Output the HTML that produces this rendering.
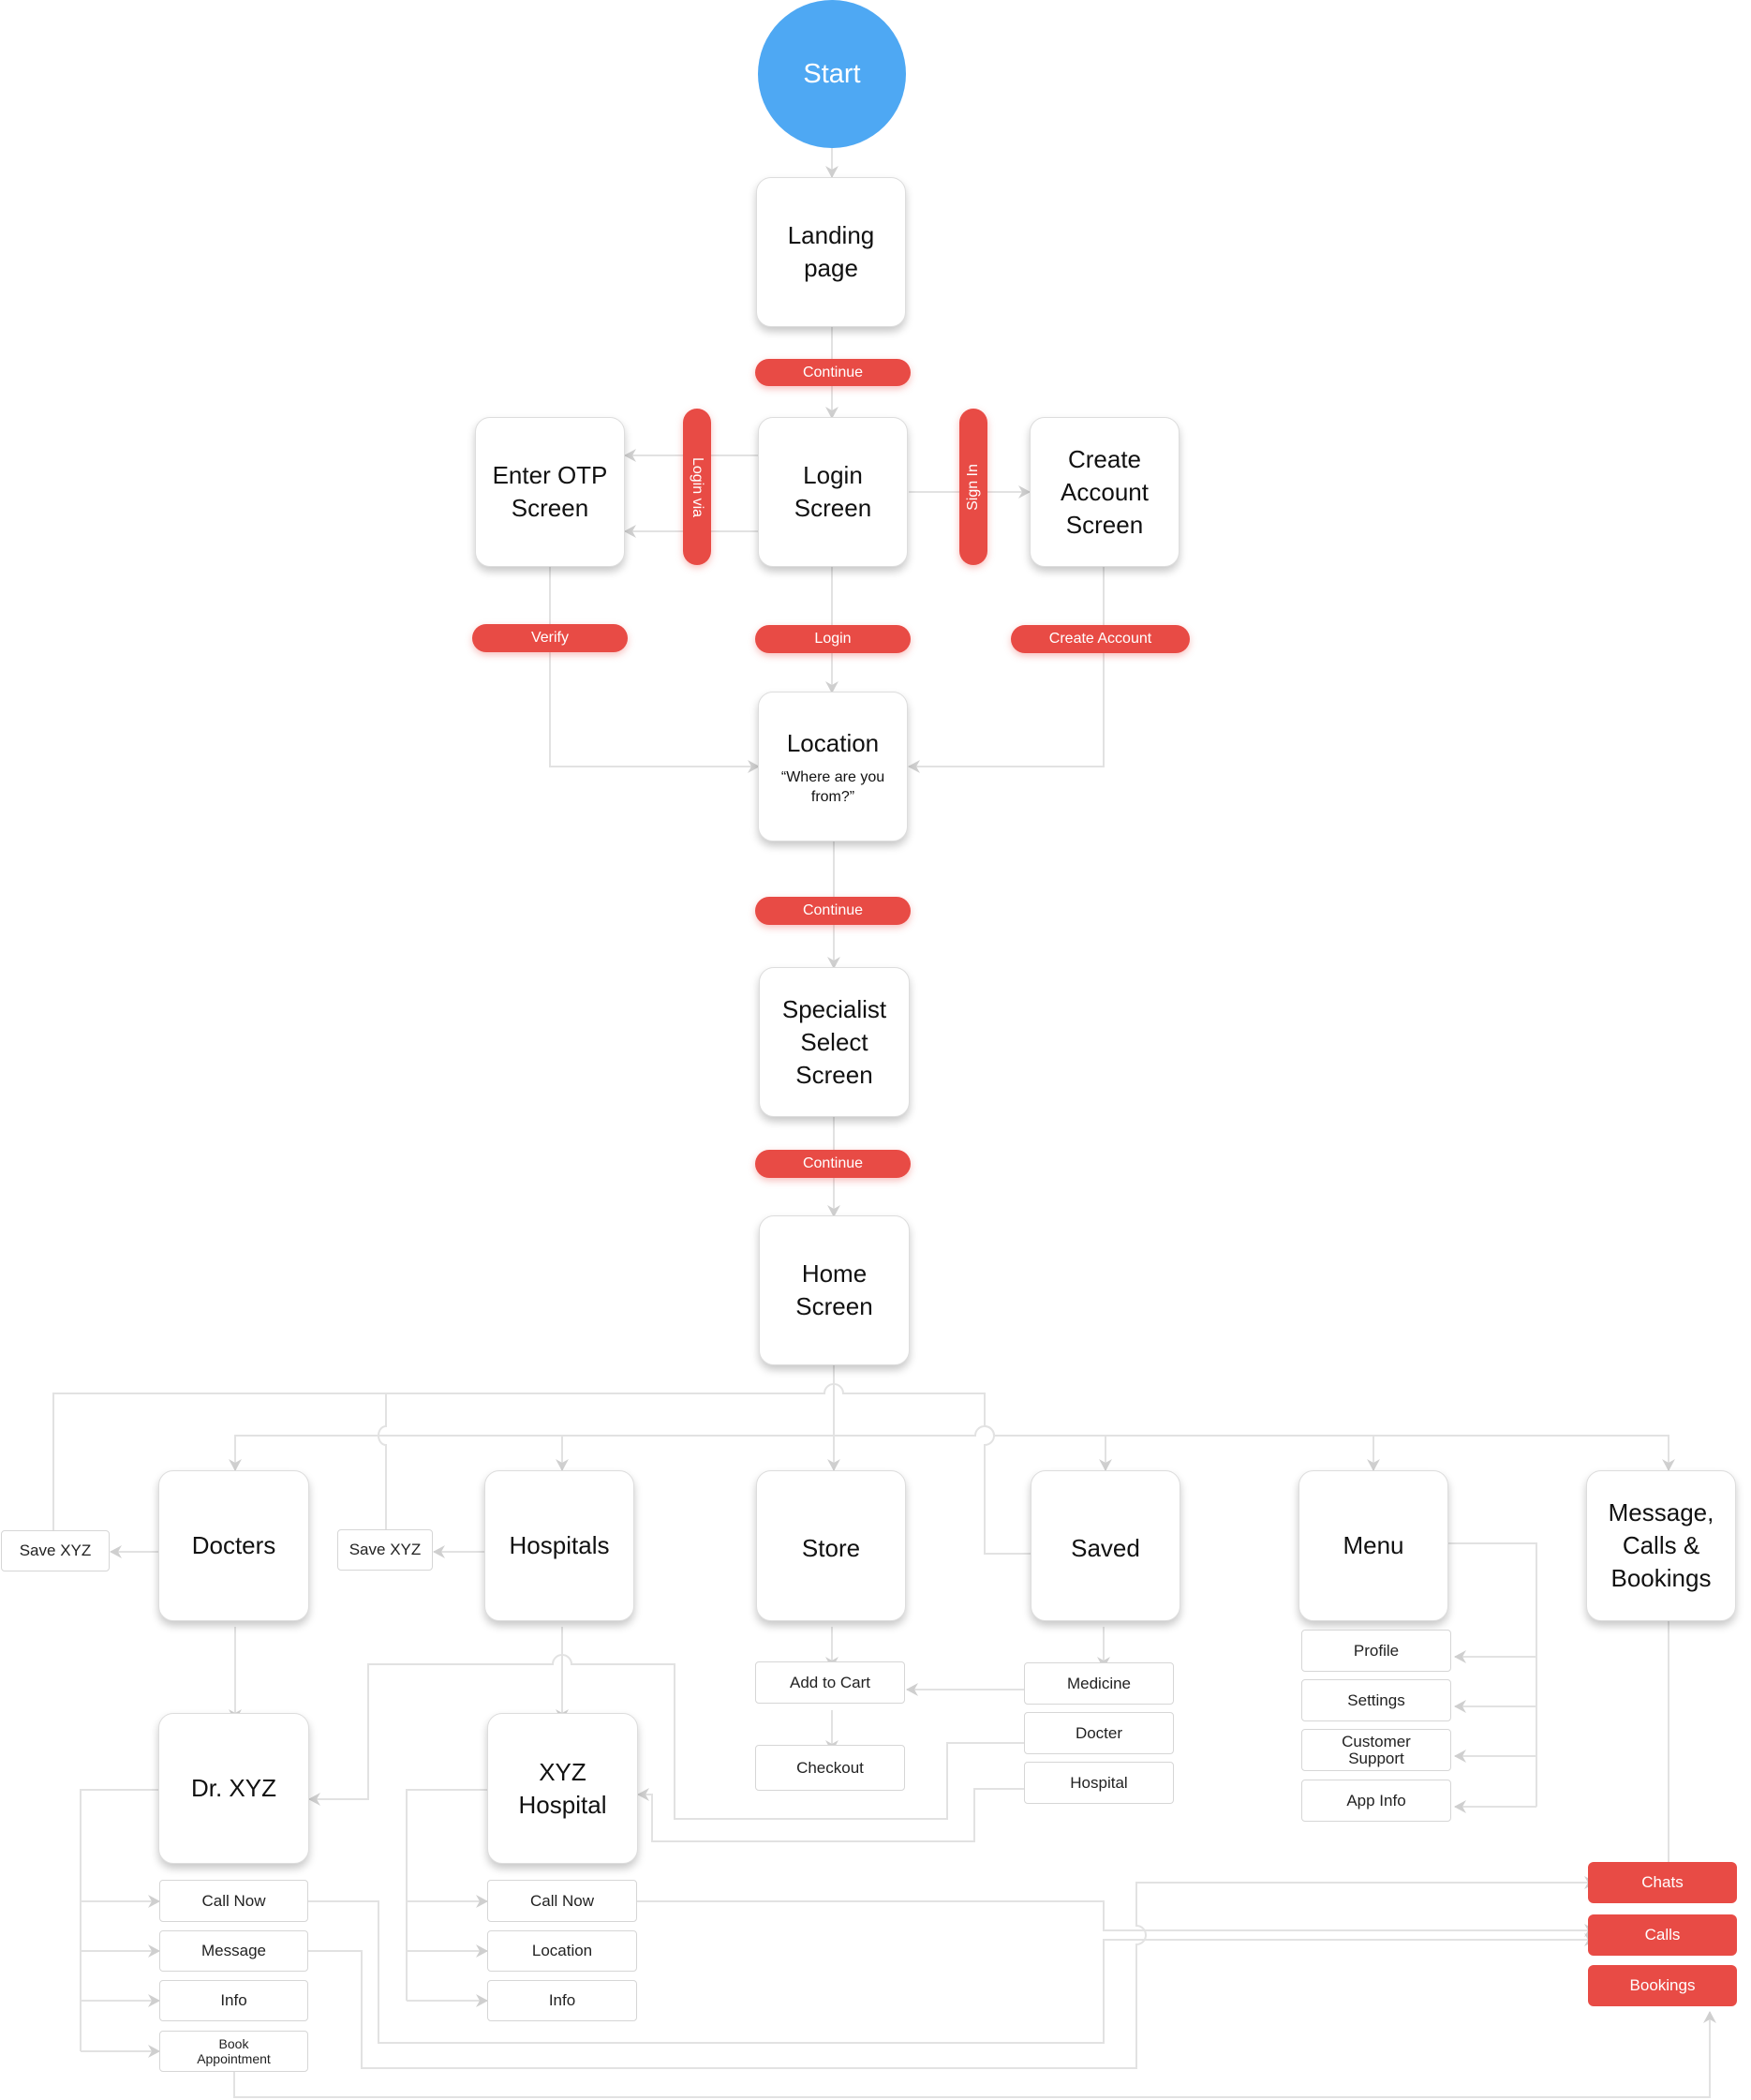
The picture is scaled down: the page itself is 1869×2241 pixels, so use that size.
<!DOCTYPE html>
<html><head><meta charset="utf-8"><style>
body{margin:0;background:#fff;width:1869px;height:2241px;position:relative;overflow:hidden;font-family:"Liberation Sans",sans-serif}
.b{position:absolute;background:#fff;border:1.5px solid #ddd;border-radius:16px;box-shadow:0 5px 9px rgba(0,0,0,.22);display:flex;align-items:center;justify-content:center;text-align:center;font-size:26px;line-height:35px;color:#111;box-sizing:border-box;flex-direction:column}
.s{position:absolute;background:#fff;border:1.5px solid #d6d6d6;border-radius:4px;display:flex;align-items:center;justify-content:center;text-align:center;font-size:17px;color:#222;box-sizing:border-box;line-height:18px}
.p{position:absolute;background:#e84b45;color:#fff;border-radius:16px;display:flex;align-items:center;justify-content:center;font-size:16px;box-shadow:0 3px 8px rgba(232,75,69,.35)}
.r{position:absolute;background:#e84b45;color:#fff;border-radius:6px;display:flex;align-items:center;justify-content:center;font-size:17px}
.v{position:absolute;background:#e84b45;color:#fff;border-radius:15px;display:flex;align-items:center;justify-content:center;box-shadow:0 3px 8px rgba(232,75,69,.35)}
.v span{font-size:16px;white-space:nowrap}
</style></head><body>
<svg width="1869" height="2241" style="position:absolute;left:0;top:0">
<defs><marker id="a" markerWidth="14" markerHeight="14" refX="12" refY="7" orient="auto" markerUnits="userSpaceOnUse"><path d="M0,0 L13,7 L0,14 L4,7 Z" fill="#cfcfcf"/></marker></defs>
<g fill="none" stroke="#e2e2e2" stroke-width="2">
<path d="M888 158V189" marker-end="url(#a)"/>
<path d="M888 349V383M888 412V446" marker-end="url(#a)"/>
<path d="M810 486H667" marker-end="url(#a)"/>
<path d="M810 567H667" marker-end="url(#a)"/>
<path d="M970 525H1099" marker-end="url(#a)"/>
<path d="M888 604V739" marker-end="url(#a)"/>
<path d="M587 604V818H810" marker-end="url(#a)"/>
<path d="M1178 604V818H970" marker-end="url(#a)"/>
<path d="M890 898V1033" marker-end="url(#a)"/>
<path d="M890 1192V1298" marker-end="url(#a)"/>
<path d="M57 1640V1487H880a10 10 0 0 1 20 0H1051V1522a10 10 0 0 1 0 20V1658H1102"/>
<path d="M412 1638V1542a8 10 0 0 1 0 -20V1487"/>
<path d="M890 1457V1569" marker-end="url(#a)"/>
<path d="M251 1569V1532H1041a10 10 0 0 1 20 0H1781V1569" />
<path d="M251 1532V1569" marker-end="url(#a)"/>
<path d="M600 1532V1569" marker-end="url(#a)"/>
<path d="M1180 1532V1569" marker-end="url(#a)"/>
<path d="M1466 1532V1569" marker-end="url(#a)"/>
<path d="M1781 1532V1569" marker-end="url(#a)"/>
<path d="M171 1656H118" marker-end="url(#a)"/>
<path d="M519 1656H463" marker-end="url(#a)"/>
<path d="M251 1736V1836" marker-end="url(#a)"/>
<path d="M600 1736V1836" marker-end="url(#a)"/>
<path d="M888 1736V1780" marker-end="url(#a)"/>
<path d="M888 1825V1869" marker-end="url(#a)"/>
<path d="M1178 1736V1780" marker-end="url(#a)"/>
<path d="M1099 1803H968" marker-end="url(#a)"/>
<path d="M1099 1860H1011V1941H720V1776H610a10 10 0 0 0 -20 0H393V1920H330" marker-end="url(#a)"/>
<path d="M1099 1909H1040V1965H696V1915H681" marker-end="url(#a)"/>
<path d="M1546 1647H1640V1928"/>
<path d="M1640 1768H1553" marker-end="url(#a)"/>
<path d="M1640 1821H1553" marker-end="url(#a)"/>
<path d="M1640 1874H1553" marker-end="url(#a)"/>
<path d="M1640 1928H1553" marker-end="url(#a)"/>
<path d="M1781 1730V1995"/>
<path d="M171 1910H86V2189"/>
<path d="M86 2029H170" marker-end="url(#a)"/>
<path d="M86 2082H170" marker-end="url(#a)"/>
<path d="M86 2135H170" marker-end="url(#a)"/>
<path d="M86 2189H170" marker-end="url(#a)"/>
<path d="M522 1910H434V2135"/>
<path d="M434 2029H520" marker-end="url(#a)"/>
<path d="M434 2082H520" marker-end="url(#a)"/>
<path d="M434 2135H520" marker-end="url(#a)"/>
<path d="M680 2029H1178V2060H1703" marker-end="url(#a)"/>
<path d="M329 2029H404V2180H1178V2070H1703" marker-end="url(#a)"/>
<path d="M329 2082H386V2207H1213V2075a10 10 0 0 0 0 -20V2009H1703" marker-end="url(#a)"/>
<path d="M250 2211V2238H1825V2147" marker-end="url(#a)"/>
</g>
</svg>
<div style="position:absolute;left:809px;top:0;width:158px;height:158px;border-radius:50%;background:#4ea8f3;color:#fff;font-size:29px;display:flex;align-items:center;justify-content:center">Start</div>
<div class="b" style="left:807px;top:189px;width:160px;height:160px">Landing<br>page</div>
<div class="p" style="left:806px;top:383px;width:166px;height:29px">Continue</div>
<div class="b" style="left:507px;top:445px;width:160px;height:160px">Enter OTP<br>Screen</div>
<div class="b" style="left:809px;top:445px;width:160px;height:160px">Login<br>Screen</div>
<div class="b" style="left:1099px;top:445px;width:160px;height:160px">Create<br>Account<br>Screen</div>
<div class="v" style="left:729px;top:436px;width:30px;height:167px"><span style="transform:rotate(90deg)">Login via</span></div>
<div class="v" style="left:1024px;top:436px;width:30px;height:167px"><span style="transform:rotate(-90deg)">Sign In</span></div>
<div class="p" style="left:504px;top:666px;width:166px;height:30px">Verify</div>
<div class="p" style="left:806px;top:667px;width:166px;height:30px">Login</div>
<div class="p" style="left:1079px;top:667px;width:191px;height:30px">Create Account</div>
<div class="b" style="left:809px;top:738px;width:160px;height:160px"><div>Location</div><div style="font-size:16px;line-height:21px;margin-top:8px">“Where are you<br>from?”</div></div>
<div class="p" style="left:806px;top:957px;width:166px;height:30px">Continue</div>
<div class="b" style="left:810px;top:1032px;width:161px;height:160px">Specialist<br>Select<br>Screen</div>
<div class="p" style="left:806px;top:1227px;width:166px;height:30px">Continue</div>
<div class="b" style="left:810px;top:1297px;width:161px;height:160px">Home<br>Screen</div>
<div class="b" style="left:169px;top:1569px;width:161px;height:161px">Docters</div>
<div class="s" style="left:1px;top:1633px;width:116px;height:44px">Save XYZ</div>
<div class="s" style="left:360px;top:1632px;width:102px;height:44px">Save XYZ</div>
<div class="b" style="left:517px;top:1569px;width:160px;height:161px">Hospitals</div>
<div class="b" style="left:807px;top:1569px;width:160px;height:161px;padding-top:6px">Store</div>
<div class="b" style="left:1100px;top:1569px;width:160px;height:161px;padding-top:6px">Saved</div>
<div class="b" style="left:1386px;top:1569px;width:160px;height:161px">Menu</div>
<div class="b" style="left:1693px;top:1569px;width:160px;height:161px">Message,<br>Calls &amp;<br>Bookings</div>
<div class="b" style="left:169px;top:1828px;width:161px;height:161px">Dr. XYZ</div>
<div class="b" style="left:520px;top:1828px;width:161px;height:161px">XYZ<br>Hospital</div>
<div class="s" style="left:806px;top:1773px;width:160px;height:45px">Add to Cart</div>
<div class="s" style="left:806px;top:1862px;width:160px;height:49px">Checkout</div>
<div class="s" style="left:1093px;top:1774px;width:160px;height:45px">Medicine</div>
<div class="s" style="left:1093px;top:1827px;width:160px;height:45px">Docter</div>
<div class="s" style="left:1093px;top:1880px;width:160px;height:45px">Hospital</div>
<div class="s" style="left:1389px;top:1739px;width:160px;height:45px">Profile</div>
<div class="s" style="left:1389px;top:1792px;width:160px;height:45px">Settings</div>
<div class="s" style="left:1389px;top:1845px;width:160px;height:45px">Customer<br>Support</div>
<div class="s" style="left:1389px;top:1899px;width:160px;height:45px">App Info</div>
<div class="r" style="left:1695px;top:1987px;width:159px;height:44px">Chats</div>
<div class="r" style="left:1695px;top:2043px;width:159px;height:44px">Calls</div>
<div class="r" style="left:1695px;top:2097px;width:159px;height:44px">Bookings</div>
<div class="s" style="left:170px;top:2006px;width:159px;height:45px">Call Now</div>
<div class="s" style="left:170px;top:2060px;width:159px;height:44px">Message</div>
<div class="s" style="left:170px;top:2113px;width:159px;height:44px">Info</div>
<div class="s" style="left:170px;top:2167px;width:159px;height:44px;font-size:14px;line-height:16px">Book<br>Appointment</div>
<div class="s" style="left:520px;top:2006px;width:160px;height:45px">Call Now</div>
<div class="s" style="left:520px;top:2060px;width:160px;height:44px">Location</div>
<div class="s" style="left:520px;top:2113px;width:160px;height:44px">Info</div>
</body></html>
